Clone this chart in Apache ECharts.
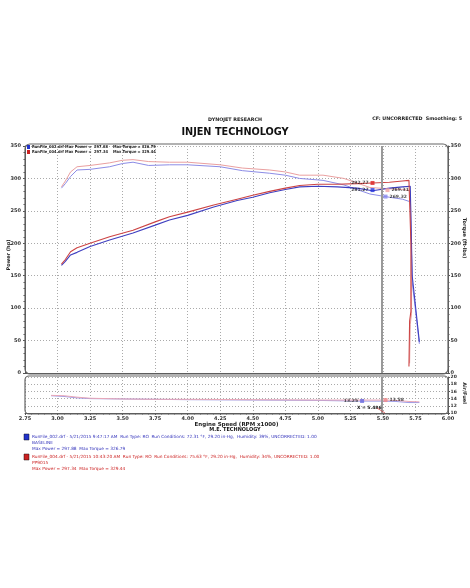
<!DOCTYPE html>
<html><head><meta charset="utf-8">
<script src="https://cdn.jsdelivr.net/npm/echarts@6/dist/echarts.min.js"></script>
<style>html,body{margin:0;padding:0;background:#fff}#c{width:470px;height:588px}</style>
</head><body><div id="c"></div>
<script>
// ---- data ----
const xTicks = [2.75,3.00,3.25,3.50,3.75,4.00,4.25,4.50,4.75,5.00,5.25,5.50,5.75,6.00];
const powerRpm   = [3.03,3.06,3.10,3.15,3.25,3.40,3.58,3.75,3.86,4.00,4.20,4.38,4.50,4.63,4.75,4.86,5.00,5.15,5.30,5.42,5.55,5.65,5.71,5.725,5.78];
const powerBlue  = [166,172,182,186,195,205,216,228,236,243,256,266,271,278,283,287,288,287,285,281,285,287,288,150,48];
const powerRedRpm= [3.03,3.06,3.10,3.15,3.25,3.40,3.58,3.75,3.86,4.00,4.20,4.38,4.50,4.63,4.75,4.86,5.00,5.15,5.30,5.42,5.55,5.65,5.70,5.715,5.715,5.705,5.70];
const powerRed   = [168,175,187,193,200,210,220,233,241,248,259,268,274,280,285,289,291,291,292,293,294,296,297,200,95,80,10];
const torqueRpm  = [3.03,3.06,3.10,3.15,3.25,3.40,3.50,3.58,3.70,3.86,4.00,4.25,4.42,4.63,4.75,4.86,5.04,5.20,5.40,5.55,5.65,5.71,5.725,5.78];
const torqueBlue = [285,292,303,313,314,318,323,325,320,321,321,318,312,308,305,300,297,290,276,271,268,264,140,45];
const torqueRedRpm=[3.03,3.06,3.10,3.15,3.25,3.40,3.50,3.58,3.70,3.86,4.00,4.25,4.42,4.63,4.75,4.86,5.04,5.20,5.40,5.55,5.65,5.71,5.72,5.72,5.71,5.705];
const torqueRed  = [287,296,310,318,320,324,328,329,326,325,325,321,316,313,310,305,305,300,286,284,283,281,180,92,75,15];
const afrRpm     = [2.95,3.05,3.15,3.25,3.50,3.75,4.00,4.50,5.00,5.30,5.50,5.60,5.70,5.78];
const afrBlue    = [14.8,14.6,14.2,14.0,13.9,13.8,13.7,13.6,13.5,13.3,13.3,13.2,12.9,12.9];
const afrRed     = [14.9,14.8,14.4,14.1,13.9,13.8,13.8,13.7,13.6,13.6,13.6,13.5,13.2,13.1];
const cursorX = 5.486;
const mainMarks = [ {x:5.42,y:293,text:'292.77',c:'#dd2222',pos:'left'},
                    {x:5.42,y:282,text:'281.27',c:'#2233dd',pos:'left'},
                    {x:5.535,y:282,text:'269.31',c:'#f0a0a0',pos:'right'},
                    {x:5.52,y:272,text:'269.32',c:'#8888ee',pos:'right'} ];
const afrMarks  = [ {x:5.34,y:13.35,text:'13.25',c:'#6666dd',pos:'left'},
                    {x:5.52,y:13.6,text:'13.58',c:'#ee8888',pos:'right'} ];
// ---------------------------------------

const zip = (a,b)=>a.map((v,i)=>[v,b[i]]);
const ch = echarts.init(document.getElementById('c'));
const F = 'DejaVu Sans';
const gridLine = {show:true,lineStyle:{color:'#aaa',type:[1,2],width:1}};
const axLine = {show:true,lineStyle:{color:'#555',width:1}};
const lbl = {fontSize:5,fontFamily:F,fontWeight:'bold',color:'#333'};

function line(name,xi,yi,data,color,w){return {name,type:'line',xAxisIndex:xi,yAxisIndex:yi,data,symbol:'none',
  lineStyle:{color,width:w||1},itemStyle:{color},z:3,silent:true};}
function marks(arr,xi,yi){return {type:'scatter',xAxisIndex:xi,yAxisIndex:yi,symbol:'rect',symbolSize:4,z:6,
  data:arr.map(m=>({value:[m.x,m.y],itemStyle:{color:m.c},label:{show:true,position:m.pos,formatter:m.text,distance:2,
  fontSize:4.5,fontFamily:F,fontWeight:'bold',color:'#222'}}))};}

ch.setOption({
  animation:false,
  backgroundColor:'#fff',
  grid:[{left:25,right:22,top:146,height:227,containLabel:false,outerBoundsMode:'none'},
        {left:25,right:22,top:377,height:36,containLabel:false,outerBoundsMode:'none'}],
  xAxis:[
    {gridIndex:0,type:'value',min:2.75,max:6,interval:0.25,axisLabel:{show:false},axisTick:{show:false},
     axisLine:axLine,splitLine:gridLine},
    {gridIndex:1,type:'value',min:2.75,max:6,interval:0.25,axisLine:axLine,splitLine:gridLine,
     axisTick:{show:true,length:2,lineStyle:{color:'#555'}},minorTick:{show:true,splitNumber:5,length:1.5,lineStyle:{color:'#555'}},
     axisLabel:Object.assign({margin:3,formatter:v=>v.toFixed(2)},lbl),
     name:'Engine Speed (RPM x1000)',nameLocation:'middle',nameGap:9,
     nameTextStyle:{fontSize:5.5,fontFamily:F,fontWeight:'bold',color:'#222'}}
  ],
  yAxis:[
    {gridIndex:0,type:'value',min:0,max:350,interval:50,position:'left',axisLine:axLine,splitLine:gridLine,
     axisTick:{show:true,length:2,lineStyle:{color:'#555'}},minorTick:{show:true,splitNumber:5,length:1.5,lineStyle:{color:'#555'}},
     axisLabel:Object.assign({margin:4},lbl)},
    {gridIndex:0,type:'value',min:0,max:350,interval:50,position:'right',axisLine:axLine,splitLine:{show:false},
     axisTick:{show:true,length:2,lineStyle:{color:'#555'}},minorTick:{show:true,splitNumber:5,length:1.5,lineStyle:{color:'#555'}},
     axisLabel:Object.assign({margin:2.5},lbl)},
    {gridIndex:1,type:'value',min:10,max:20,interval:2,position:'right',axisLine:axLine,splitLine:gridLine,
     axisTick:{show:true,length:2,lineStyle:{color:'#555'}},
     axisLabel:Object.assign({margin:2.5},lbl,{fontSize:4.5})}
  ],
  series:[
    line('tq blue',0,1,zip(torqueRpm,torqueBlue),'#8c8ce6',1),
    line('tq red',0,1,zip(torqueRedRpm,torqueRed),'#eaa0a0',1),
    line('hp blue',0,0,zip(powerRpm,powerBlue),'#3f3fc0',1.1),
    Object.assign(line('hp red',0,0,zip(powerRedRpm,powerRed),'#cc4444',1.1),
      {markLine:{silent:true,symbol:'none',label:{show:false},lineStyle:{color:'#999',width:2,type:'solid'},data:[{xAxis:cursorX}]}}),
    Object.assign(line('afr blue',1,2,zip(afrRpm,afrBlue),'#9a9ae6',1),
      {markLine:{silent:true,symbol:'none',label:{show:false},lineStyle:{color:'#999',width:2,type:'solid'},data:[{xAxis:cursorX}]}}),
    line('afr red',1,2,zip(afrRpm,afrRed),'#eaa8b8',1),
    marks(mainMarks,0,0),
    marks(afrMarks,1,2)
  ],
  graphic:[
    {type:'rect',shape:{x:25,y:144,width:423,height:230,r:5},style:{fill:'none',stroke:'#666',lineWidth:1.2},z:10,silent:true},
    {type:'rect',shape:{x:25,y:376,width:423,height:38,r:4},style:{fill:'none',stroke:'#666',lineWidth:1.2},z:10,silent:true},
    {type:'text',x:9,y:255,rotation:Math.PI/2,z:11,style:{text:'Power (hp)',font:'bold 5px "DejaVu Sans"',fill:'#222',align:'center',verticalAlign:'middle'}},
    {type:'text',x:464,y:238,rotation:-Math.PI/2,z:11,style:{text:'Torque (ft-lbs)',font:'bold 5px "DejaVu Sans"',fill:'#222',align:'center',verticalAlign:'middle'}},
    {type:'text',x:464,y:393,rotation:-Math.PI/2,z:11,style:{text:'Air/Fuel',font:'bold 5px "DejaVu Sans"',fill:'#222',align:'center',verticalAlign:'middle'}},
    {type:'text',left:'center',top:117,style:{text:'DYNOJET RESEARCH',font:'bold 4.8px "DejaVu Sans"',fill:'#222'}},
    {type:'text',right:8,top:116,style:{text:'CF: UNCORRECTED  Smoothing: 5',font:'bold 4.8px "DejaVu Sans"',fill:'#222'}},
    {type:'text',left:'center',top:127,style:{text:'INJEN TECHNOLOGY',font:'900 10.8px "DejaVu Sans Condensed"',fill:'#111'}},
    {type:'rect',shape:{x:27,y:145,width:3,height:4},style:{fill:'#2233cc'},z:11},
    {type:'rect',shape:{x:27,y:150,width:3,height:4},style:{fill:'#cc2222'},z:11},
    {type:'text',left:32,top:145,z:11,style:{text:'RunFile_002.drf Max Power =  297.88    Max Torque = 326.79',font:'bold 4px "DejaVu Sans Condensed"',fill:'#222'}},
    {type:'text',left:32,top:150,z:11,style:{text:'RunFile_004.drf Max Power =  297.34    Max Torque = 329.44',font:'bold 4px "DejaVu Sans Condensed"',fill:'#222'}},
    {type:'text',left:357,top:405,z:11,style:{text:'X = 5.486',font:'bold 4.5px "DejaVu Sans"',fill:'#222'}},
    {type:'line',shape:{x1:377,y1:408,x2:385,y2:413},style:{stroke:'#cc4444',lineWidth:0.8},z:11},
    {type:'text',left:'center',top:427,style:{text:'M.E. TECHNOLOGY',font:'900 5.5px "DejaVu Sans Condensed"',fill:'#111'}},
    {type:'rect',shape:{x:24,y:434,width:5,height:6},style:{fill:'#2233cc',stroke:'#112',lineWidth:0.5}},
    {type:'text',left:32,top:435,style:{text:'RunFile_002.drf - 5/21/2015 9:47:17 AM  Run Type: RO  Run Conditions: 72.31 °F, 29.20 in-Hg,  Humidity: 39%, UNCORRECTED: 1.00',font:'4.3px "DejaVu Sans"',fill:'#3333bb'}},
    {type:'text',left:32,top:441,style:{text:'BASELINE',font:'4.3px "DejaVu Sans"',fill:'#3333bb'}},
    {type:'text',left:32,top:447,style:{text:'Max Power = 297.88  Max Torque = 326.79',font:'4.3px "DejaVu Sans"',fill:'#3333bb'}},
    {type:'rect',shape:{x:24,y:454,width:5,height:6},style:{fill:'#cc2222',stroke:'#211',lineWidth:0.5}},
    {type:'text',left:32,top:455,style:{text:'RunFile_004.drf - 5/21/2015 10:43:20 AM  Run Type: RO  Run Conditions: 75.63 °F, 29.20 in-Hg,  Humidity: 34%, UNCORRECTED: 1.00',font:'4.3px "DejaVu Sans"',fill:'#cc2222'}},
    {type:'text',left:32,top:461,style:{text:'PP9015',font:'4.3px "DejaVu Sans"',fill:'#cc2222'}},
    {type:'text',left:32,top:467,style:{text:'Max Power = 297.34  Max Torque = 329.44',font:'4.3px "DejaVu Sans"',fill:'#cc2222'}}
  ]
});
</script></body></html>
